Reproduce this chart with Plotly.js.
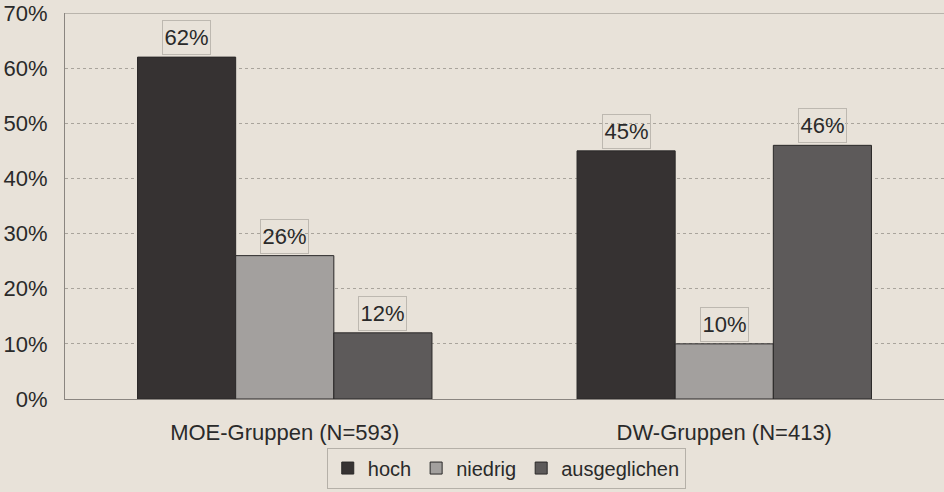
<!DOCTYPE html>
<html><head><meta charset="utf-8">
<script src="https://cdn.plot.ly/plotly-3.0.1.min.js"></script>
<style>html,body{margin:0;padding:0;background:#e8e2d9}</style>
</head><body><div id="chart" style="width:944px;height:492px"></div>
<script>
const categories = ["MOE-Gruppen (N=593)", "DW-Gruppen (N=413)"];
const seriesNames = ["hoch", "niedrig", "ausgeglichen"];
const hoch = [62, 45];
const niedrig = [26, 10];
const ausgeglichen = [12, 46];
const tickVals = [0, 10, 20, 30, 40, 50, 60, 70];
const tickText = ["0%", "10%", "20%", "30%", "40%", "50%", "60%", "70%"];

const colors = ["#363232", "#a3a09e", "#5d5a5a"];
const allSeries = [hoch, niedrig, ausgeglichen];
const bargap = 0.33;
const barW = (1 - bargap) / 3;

const font = {family: "Liberation Sans, Arial, sans-serif", size: 22, color: "#2a2a2a"};
const xIdx = categories.map((c, i) => i);

const traces = allSeries.map((vals, s) => ({
  type: "bar", name: seriesNames[s], x: xIdx, y: vals,
  marker: {color: colors[s], line: {color: "#2a2828", width: 1}},
  hoverinfo: "skip"
}));

const annotations = [];
allSeries.forEach((vals, s) => {
  vals.forEach((v, i) => {
    annotations.push({
      x: i + (s - 1) * barW, y: v, xref: "x", yref: "y",
      text: v + "%", showarrow: false, yanchor: "bottom", yshift: 2,
      width: 47, height: 33,
      font: font, bordercolor: "#bdb8b0", borderwidth: 1, borderpad: 0,
      bgcolor: "rgba(0,0,0,0)"
    });
  });
});

const layout = {
  width: 944, height: 492,
  margin: {l: 65, r: 0, t: 13, b: 93, autoexpand: false},
  paper_bgcolor: "#e8e2d9", plot_bgcolor: "#e8e2d9",
  barmode: "group", bargap: bargap, bargroupgap: 0,
  font: font,
  showlegend: true,
  legend: {orientation: "h", x: 0.502, xanchor: "center", y: -0.232, yanchor: "bottom",
    bordercolor: "#b5b0a8", borderwidth: 1, bgcolor: "rgba(0,0,0,0)",
    font: {family: font.family, size: 20, color: font.color}, itemwidth: 30, traceorder: "normal"},
  xaxis: {type: "linear", range: [-0.5, 1.5], tickvals: xIdx, ticktext: categories,
    showgrid: false, zeroline: false, showline: true, linecolor: "#8a8580", linewidth: 1,
    ticks: "", tickfont: font, ticklabelstandoff: 14, automargin: false},
  yaxis: {range: [0, 70], tickvals: tickVals, ticktext: tickText,
    showgrid: true, gridcolor: "#a9a49c", griddash: "dot", gridwidth: 1,
    zeroline: false, showline: true, linecolor: "#8a8580", linewidth: 1,
    ticks: "", tickfont: font, ticklabelstandoff: 12, automargin: false},
  annotations: annotations,
  shapes: [{type: "line", xref: "paper", yref: "y", x0: 0, x1: 1, y0: 70, y1: 70,
    line: {color: "#8a8580", width: 1}}]
};

Plotly.newPlot("chart", traces, layout, {displayModeBar: false, staticPlot: true});
</script></body></html>
